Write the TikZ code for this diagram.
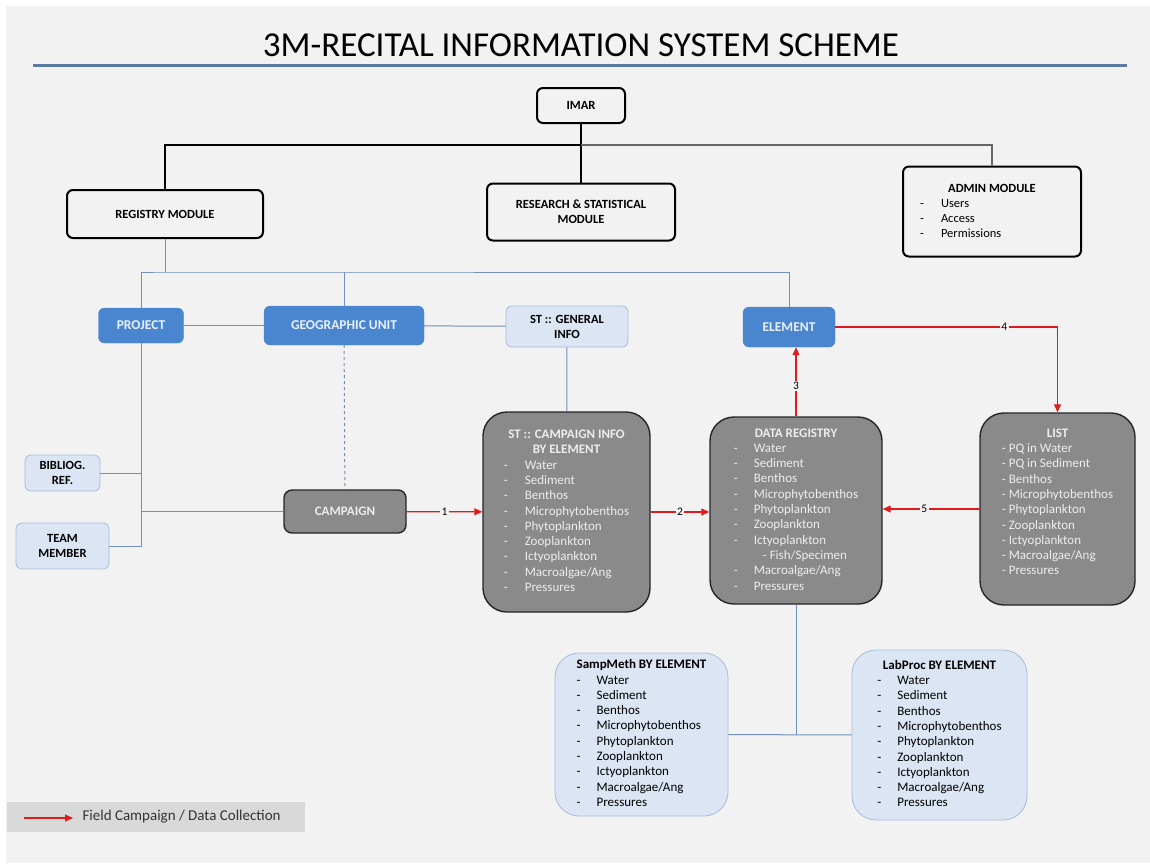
\documentclass[tikz,border=0pt]{standalone}
\usepackage{fontspec}
\setmainfont{Carlito}
\usetikzlibrary{arrows.meta}

\definecolor{bgc}{HTML}{F2F2F2}
\definecolor{blueBox}{HTML}{4A86D0}
\definecolor{lightBox}{HTML}{DBE5F3}
\definecolor{lightEdge}{HTML}{A7BCDA}
\definecolor{grayBox}{HTML}{8A8A8A}
\definecolor{linkBlue}{HTML}{6F8FBF}
\definecolor{flowRed}{HTML}{E31A1C}
\definecolor{titleLine}{HTML}{5B7AA8}
\definecolor{legendBg}{HTML}{D9D9D9}

% rows shared by the element boxes
\newcommand{\elemrows}{%
  - & Water\\ - & Sediment\\ - & Benthos\\ - & Microphytobenthos\\
  - & Phytoplankton\\ - & Zooplankton\\ - & Ictyoplankton\\
  - & Macroalgae/Ang\\ - & Pressures}

\tikzset{
  topbox/.style={draw=black, line width=2pt, rounded corners=6pt, fill=bgc,
    inner sep=0pt, align=center, font=\bfseries\fontsize{12.5}{15}\selectfont},
  bluebox/.style={fill=blueBox, draw=blueBox, rounded corners=6pt, inner sep=0pt,
    text=white!88!blueBox, font=\bfseries\fontsize{13.5}{15}\selectfont},
  lightbox/.style={fill=lightBox, draw=lightEdge, line width=0.8pt, rounded corners=6pt,
    inner sep=0pt, align=center, font=\bfseries\fontsize{12.5}{15}\selectfont},
  graybox/.style={fill=grayBox, draw=black!85, line width=1.4pt, rounded corners=24pt,
    inner sep=0pt, text=white!85!grayBox, font=\fontsize{13}{15.3}\selectfont},
  methbox/.style={fill=lightBox, draw=lightEdge, line width=0.8pt, rounded corners=24pt,
    inner sep=0pt, font=\fontsize{13}{15.3}\selectfont},
  treeline/.style={black, line width=1.2pt},
  link/.style={linkBlue, line width=1pt},
  flow/.style={flowRed, line width=1.2pt, -{Triangle[length=8pt,width=7pt]}},
  flowlabel/.style={fill=bgc, text=black, inner sep=1.5pt, font=\fontsize{11.5}{13}\selectfont},
}

\begin{document}
\begin{tikzpicture}[x=1pt, y=-1pt]
  \useasboundingbox (0,0) rectangle (1150,863);
  \fill[bgc] (6,6) rectangle (1150,863);

  % title
  \node[font=\fontsize{35}{38}\selectfont] (title) at (581,45) {3M-RECITAL INFORMATION SYSTEM SCHEME};
  \draw[titleLine, line width=3pt] (33,65) -- (1127,65);

  % modules
  \node[topbox, minimum width=88pt, minimum height=35pt] (imar) at (581,105.5) {IMAR};
  \node[topbox, minimum width=196pt, minimum height=48pt] (reg) at (165,214) {REGISTRY MODULE};
  \node[topbox, minimum width=188pt, minimum height=57pt] (res) at (581,212) {RESEARCH \& STATISTICAL\\MODULE};
  \node[topbox, minimum width=178pt, minimum height=90pt] (admin) at (992,211.5) {%
    \begin{tabular}{@{}p{21pt}@{}p{123pt}@{}}
      \multicolumn{2}{@{}c@{}}{ADMIN MODULE}\\
      \mdseries - & \mdseries Users\\
      \mdseries - & \mdseries Access\\
      \mdseries - & \mdseries Permissions
    \end{tabular}};

  \coordinate (topbus) at (581,145);
  \draw[treeline] (imar) -- (topbus) -| (reg);
  \draw[treeline] (topbus) -- (res);
  \draw[treeline, black!60] (topbus) -| (admin);

  % registry level
  \node[bluebox, minimum width=85pt, minimum height=35pt] (proj) at (141,325.5) {PROJECT};
  \node[bluebox, minimum width=160pt, minimum height=39pt] (geo) at (344,325.5) {GEOGRAPHIC UNIT};
  \node[lightbox, minimum width=122pt, minimum height=41pt] (stgen) at (567,326.5) {ST :: GENERAL\\INFO};
  \node[bluebox, minimum width=92pt, minimum height=40pt] (elem) at (789,327) {ELEMENT};
  \node[lightbox, minimum width=75pt, minimum height=36pt] (bib) at (62.5,473) {BIBLIOG.\\REF.};
  \node[lightbox, minimum width=93pt, minimum height=46pt] (team) at (62.5,546) {TEAM\\MEMBER};
  \node[graybox, rounded corners=8pt, minimum width=122pt, minimum height=43pt,
    font=\bfseries\fontsize{13}{15}\selectfont] (camp) at (345,511.5) {CAMPAIGN};

  \coordinate (regbus) at (165,272);
  \draw[link] (reg) -- (regbus);
  \draw[link] (proj) |- (regbus) -| (elem);
  \draw[link] (geo) -- (geo |- regbus);
  \draw[link] (proj) -- (geo);
  \draw[link] (geo) -- (stgen);
  \draw[link] (proj) |- (team);
  \draw[link] (bib) -- (bib -| proj);
  \draw[link] (camp) -- (camp -| proj);
  \draw[link, dashed] (geo) -- (camp);

  % element boxes
  \node[graybox, minimum width=167pt, minimum height=200pt] (stcamp) at (566.5,512) {%
    \begin{tabular}{@{}p{21pt}@{}l@{}}
      \multicolumn{2}{@{}c@{}}{\bfseries ST :: CAMPAIGN INFO}\\
      \multicolumn{2}{@{}c@{}}{\bfseries BY ELEMENT}\\
      \elemrows
    \end{tabular}};
  \node[graybox, minimum width=172pt, minimum height=187pt] (dreg) at (796,510.5) {%
    \begin{tabular}{@{}p{20pt}@{}l@{}}
      \multicolumn{2}{@{}c@{}}{\bfseries DATA REGISTRY}\\
      - & Water\\ - & Sediment\\ - & Benthos\\ - & Microphytobenthos\\
      - & Phytoplankton\\ - & Zooplankton\\ - & Ictyoplankton\\
        & \hspace{9pt}- Fish/Specimen\\
      - & Macroalgae/Ang\\ - & Pressures
    \end{tabular}};
  \node[graybox, minimum width=155pt, minimum height=192pt] (list) at (1057.5,509) {%
    \begin{tabular}{@{}l@{}}
      \multicolumn{1}{@{}c@{}}{\bfseries LIST}\\
      - PQ in Water\\ - PQ in Sediment\\ - Benthos\\ - Microphytobenthos\\
      - Phytoplankton\\ - Zooplankton\\ - Ictyoplankton\\ - Macroalgae/Ang\\
      - Pressures\\[12pt]
    \end{tabular}};
  \node[methbox, minimum width=173pt, minimum height=163pt] (samp) at (641.5,734.5) {%
    \begin{tabular}{@{}p{20pt}@{}l@{}}
      \multicolumn{2}{@{}c@{}}{\bfseries SampMeth BY ELEMENT}\\
      \elemrows
    \end{tabular}};
  \node[methbox, minimum width=175pt, minimum height=170pt] (lab) at (939.5,735) {%
    \begin{tabular}{@{}p{20pt}@{}l@{}}
      \multicolumn{2}{@{}c@{}}{\bfseries LabProc BY ELEMENT}\\
      \elemrows
    \end{tabular}};

  \draw[link] (stgen) -- (stcamp);
  \draw[flow] (camp) -- node[flowlabel] {1} (stcamp);
  \draw[flow] (stcamp.east) -- node[flowlabel] {2} (stcamp.east -| dreg.west);
  \draw[flow] (dreg.north) -- node[flowlabel, pos=0.44] {3} (dreg.north |- elem.south);
  \draw[flow] (elem) -| node[flowlabel, pos=0.38] {4} (list);
  \draw[flow] (list.west) -- node[flowlabel, pos=0.57] {5} (list.west -| dreg.east);

  \coordinate (labbus) at (796,735);
  \draw[link] (dreg) -- (labbus);
  \draw[link] (samp) -- (lab);

  % legend
  \node[fill=legendBg, minimum width=298pt, minimum height=30pt, inner sep=0pt] (legend) at (156,817) {};
  \coordinate (legA) at (24,818);
  \coordinate (legB) at (73,818);
  \draw[flow] (legA) -- (legB);
  \node[anchor=west, text=black!80, font=\fontsize{15}{17}\selectfont] (legtext) at (79,817) {Field Campaign / Data Collection};
\end{tikzpicture}
\end{document}
